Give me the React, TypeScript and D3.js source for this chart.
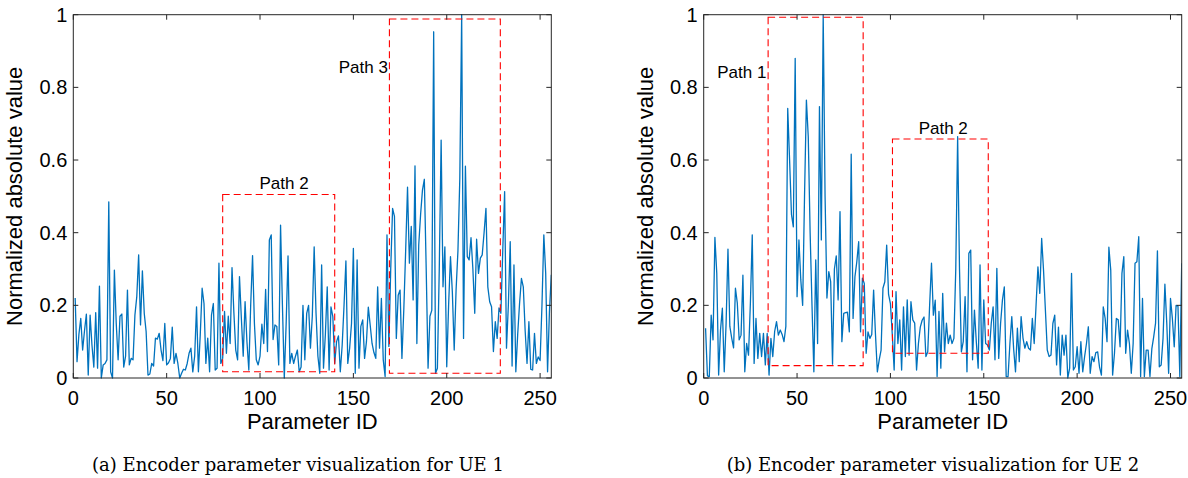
import React from "react";
import * as d3 from "d3";

const UE1_VALUES = [
  0.22, 0.045, 0.12, 0.164, 0.077, 0.13, 0.176, 0.008, 0.173, 0.09,
  0.03, 0.18, 0.027, 0.253, 0.0, 0.036, 0.04, 0.05, 0.485, 0.017,
  0.0, 0.297, 0.15, 0.05, 0.17, 0.176, 0.03, 0.06, 0.242, 0.036,
  0.054, 0.05, 0.173, 0.224, 0.339, 0.146, 0.295, 0.178, 0.128, 0.008,
  0.011, 0.04, 0.033, 0.11, 0.107, 0.123, 0.077, 0.048, 0.15, 0.036,
  0.042, 0.054, 0.14, 0.04, 0.068, 0.04, 0.0, 0.013, 0.024, 0.022,
  0.04, 0.068, 0.082, 0.017, 0.06, 0.196, 0.017, 0.12, 0.247, 0.205,
  0.04, 0.11, 0.017, 0.173, 0.205, 0.022, 0.027, 0.316, 0.04, 0.054,
  0.183, 0.068, 0.17, 0.095, 0.304, 0.18, 0.077, 0.05, 0.279, 0.165,
  0.06, 0.21, 0.1, 0.022, 0.2, 0.337, 0.15, 0.05, 0.036, 0.06,
  0.148, 0.095, 0.244, 0.073, 0.38, 0.394, 0.106, 0.146, 0.142, 0.036,
  0.421, 0.2, 0.0, 0.15, 0.336, 0.04, 0.068, 0.04, 0.06, 0.077,
  0.017, 0.03, 0.2, 0.05, 0.178, 0.2, 0.082, 0.17, 0.361, 0.178,
  0.06, 0.013, 0.311, 0.027, 0.12, 0.251, 0.022, 0.196, 0.169, 0.04,
  0.1, 0.116, 0.017, 0.09, 0.2, 0.322, 0.04, 0.082, 0.15, 0.357,
  0.013, 0.325, 0.027, 0.142, 0.16, 0.054, 0.1, 0.195, 0.146, 0.095,
  0.07, 0.054, 0.251, 0.082, 0.219, 0.05, 0.004, 0.394, 0.087, 0.3,
  0.467, 0.445, 0.109, 0.228, 0.242, 0.054, 0.188, 0.35, 0.525, 0.316,
  0.417, 0.215, 0.584, 0.095, 0.366, 0.45, 0.517, 0.547, 0.3, 0.027,
  0.17, 0.186, 0.953, 0.013, 0.027, 0.3, 0.655, 0.251, 0.361, 0.031,
  0.2, 0.334, 0.237, 0.077, 0.242, 0.35, 0.55, 1.0, 0.109, 0.583,
  0.334, 0.325, 0.386, 0.3, 0.178, 0.382, 0.288, 0.33, 0.339, 0.4,
  0.467, 0.251, 0.21, 0.196, 0.073, 0.155, 0.109, 0.193, 0.178, 0.35,
  0.513, 0.082, 0.2, 0.375, 0.033, 0.311, 0.017, 0.12, 0.205, 0.274,
  0.251, 0.13, 0.04, 0.155, 0.024, 0.022, 0.123, 0.04, 0.058, 0.048,
  0.2, 0.394, 0.288, 0.017, 0.182, 0.284,
];

const UE2_VALUES = [
  0.137, 0.006, 0.004, 0.173, 0.105, 0.387, 0.288, 0.008, 0.132, 0.192,
  0.017, 0.151, 0.355, 0.142, 0.11, 0.083, 0.247, 0.206, 0.105, 0.118,
  0.283, 0.017, 0.095, 0.063, 0.206, 0.394, 0.04, 0.164, 0.054, 0.123,
  0.059, 0.123, 0.036, 0.123, 0.008, 0.109, 0.059, 0.128, 0.155, 0.118,
  0.132, 0.12, 0.1, 0.142, 0.742, 0.6, 0.45, 0.416, 0.88, 0.224,
  0.38, 0.27, 0.2, 0.5, 0.765, 0.664, 0.4, 0.2, 0.017, 0.325,
  0.095, 0.747, 0.38, 1.0, 0.5, 0.22, 0.293, 0.265, 0.038, 0.3,
  0.336, 0.215, 0.458, 0.1, 0.178, 0.18, 0.181, 0.127, 0.616, 0.164,
  0.279, 0.32, 0.375, 0.127, 0.275, 0.26, 0.068, 0.127, 0.109, 0.12,
  0.242, 0.12, 0.017, 0.05, 0.077, 0.247, 0.265, 0.366, 0.23, 0.205,
  0.12, 0.022, 0.238, 0.095, 0.16, 0.022, 0.196, 0.059, 0.215, 0.063,
  0.21, 0.16, 0.151, 0.022, 0.095, 0.14, 0.159, 0.168, 0.059, 0.072,
  0.2, 0.316, 0.173, 0.214, 0.004, 0.183, 0.027, 0.233, 0.072, 0.151,
  0.095, 0.118, 0.095, 0.109, 0.3, 0.664, 0.3, 0.072, 0.1, 0.224,
  0.017, 0.343, 0.352, 0.05, 0.187, 0.1, 0.027, 0.311, 0.022, 0.215,
  0.095, 0.091, 0.077, 0.15, 0.196, 0.05, 0.302, 0.054, 0.15, 0.215,
  0.251, 0.004, 0.004, 0.095, 0.169, 0.08, 0.017, 0.137, 0.045, 0.169,
  0.11, 0.082, 0.1, 0.082, 0.077, 0.164, 0.095, 0.2, 0.306, 0.233,
  0.384, 0.297, 0.187, 0.077, 0.059, 0.063, 0.15, 0.173, 0.036, 0.14,
  0.008, 0.118, 0.063, 0.118, 0.0, 0.027, 0.288, 0.022, 0.031, 0.086,
  0.013, 0.1, 0.017, 0.059, 0.095, 0.141, 0.013, 0.059, 0.045, 0.07,
  0.072, 0.03, 0.008, 0.196, 0.164, 0.1, 0.36, 0.297, 0.008, 0.068,
  0.164, 0.16, 0.086, 0.288, 0.334, 0.068, 0.132, 0.095, 0.013, 0.095,
  0.316, 0.32, 0.389, 0.004, 0.219, 0.004, 0.077, 0.077, 0.004, 0.08,
  0.113, 0.151, 0.35, 0.031, 0.036, 0.109, 0.258, 0.151, 0.013, 0.219,
  0.164, 0.086, 0.2, 0.198, 0.004, 0.316,
];

const X_TICKS = [0, 50, 100, 150, 200, 250];
const Y_TICKS = [0, 0.2, 0.4, 0.6, 0.8, 1];
const X_LABEL = "Parameter ID";
const Y_LABEL = "Normalized absolute value";

// annotation boxes in data coordinates: [x0, x1, yBottom, yTop]
const UE1_BOXES = [
  [80, 140, 0.017, 0.505],
  [169.3, 228.7, 0.013, 0.988],
];
const UE1_BOX_LABELS = ["Path 2", "Path 3"];
const UE1_LABEL_POS = [
  [112.9, 0.52, "middle"],
  [168.5, 0.84, "end"],
];

const UE2_BOXES = [
  [34.5, 85.4, 0.034, 0.993],
  [101.1, 152.4, 0.068, 0.658],
];
const UE2_BOX_LABELS = ["Path 1", "Path 2"];
const UE2_LABEL_POS = [
  [33.6, 0.826, "end"],
  [128.3, 0.672, "middle"],
];

const CAPTIONS = [
  "(a) Encoder parameter visualization for UE 1",
  "(b) Encoder parameter visualization for UE 2",
];

const AX = "#262626";
const BLUE = "#0072BD";
const RED = "#FF0000";
const SANS = "'Liberation Sans', Arial, Helvetica, sans-serif";
const SERIF = "'DejaVu Serif', 'Liberation Serif', serif";

type PanelProps = {
  left: number;
  values: number[];
  boxes: number[][];
  boxLabels: string[];
  labelPos: any[];
  caption: string;
  captionX: number;
};

function Panel({ left, values, boxes, boxLabels, labelPos, caption, captionX }: PanelProps) {
  const width = 478;
  const top = 14.7;
  const bottom = 378;
  const x = d3.scaleLinear().domain([0, 256]).range([left, left + width]);
  const y = d3.scaleLinear().domain([0, 1]).range([bottom, top]);
  const line = d3
    .line<number>()
    .x((_, i) => x(i + 1))
    .y((d) => y(d));
  const tickLen = 5;
  return (
    <g>
      <defs>
        <clipPath id={`clip-${left}`}>
          <rect x={left} y={top - 1} width={width} height={bottom - top + 2} />
        </clipPath>
      </defs>
      <rect x={left} y={top} width={width} height={bottom - top} fill="#fff" />
      <path
        d={line(values) || ""}
        fill="none"
        stroke={BLUE}
        strokeWidth={1.3}
        strokeLinejoin="round"
        clipPath={`url(#clip-${left})`}
      />
      {boxes.map((b, i) => (
        <rect
          key={i}
          x={x(b[0])}
          y={y(b[3])}
          width={x(b[1]) - x(b[0])}
          height={y(b[2]) - y(b[3])}
          fill="none"
          stroke={RED}
          strokeWidth={1.1}
          strokeDasharray="7,4"
        />
      ))}
      {boxLabels.map((t, i) => (
        <text
          key={t}
          x={x(labelPos[i][0])}
          y={y(labelPos[i][1])}
          textAnchor={labelPos[i][2]}
          fontFamily={SANS}
          fontSize={17}
          fill="#000"
        >
          {t}
        </text>
      ))}
      {/* axes box */}
      <rect x={left} y={top} width={width} height={bottom - top} fill="none" stroke={AX} strokeWidth={1} />
      {X_TICKS.map((t) => (
        <g key={`x${t}`}>
          <line x1={x(t)} x2={x(t)} y1={bottom} y2={bottom - tickLen} stroke={AX} />
          <line x1={x(t)} x2={x(t)} y1={top} y2={top + tickLen} stroke={AX} />
          <text x={x(t)} y={405} textAnchor="middle" fontFamily={SANS} fontSize={20} fill="#000">
            {t}
          </text>
        </g>
      ))}
      {Y_TICKS.map((t) => (
        <g key={`y${t}`}>
          <line x1={left} x2={left + tickLen} y1={y(t)} y2={y(t)} stroke={AX} />
          <line x1={left + width} x2={left + width - tickLen} y1={y(t)} y2={y(t)} stroke={AX} />
          <text
            x={left - 6}
            y={y(t)}
            dy="0.35em"
            textAnchor="end"
            fontFamily={SANS}
            fontSize={20}
            fill="#000"
          >
            {t === 0 || t === 1 ? String(t) : t.toFixed(1)}
          </text>
        </g>
      ))}
      <text
        x={left + width / 2}
        y={429}
        textAnchor="middle"
        fontFamily={SANS}
        fontSize={22}
        fill="#000"
      >
        {X_LABEL}
      </text>
      <text
        transform={`translate(${left - 51},${(top + bottom) / 2}) rotate(-90)`}
        textAnchor="middle"
        fontFamily={SANS}
        fontSize={22}
        fill="#000"
      >
        {Y_LABEL}
      </text>
      <text
        x={captionX}
        y={471}
        textAnchor="middle"
        fontFamily={SERIF}
        fontSize={18}
        fill="#000"
      >
        {caption}
      </text>
    </g>
  );
}

export default function App() {
  return (
    <svg
      width={1188}
      height={478}
      style={{ position: "absolute", left: 0, top: 0, background: "#fff" }}
    >
      <rect width={1188} height={478} fill="#fff" />
      <Panel
        left={73.3}
        values={UE1_VALUES}
        boxes={UE1_BOXES}
        boxLabels={UE1_BOX_LABELS}
        labelPos={UE1_LABEL_POS}
        caption={CAPTIONS[0]}
        captionX={298}
      />
      <Panel
        left={703.7}
        values={UE2_VALUES}
        boxes={UE2_BOXES}
        boxLabels={UE2_BOX_LABELS}
        labelPos={UE2_LABEL_POS}
        caption={CAPTIONS[1]}
        captionX={933}
      />
    </svg>
  );
}
